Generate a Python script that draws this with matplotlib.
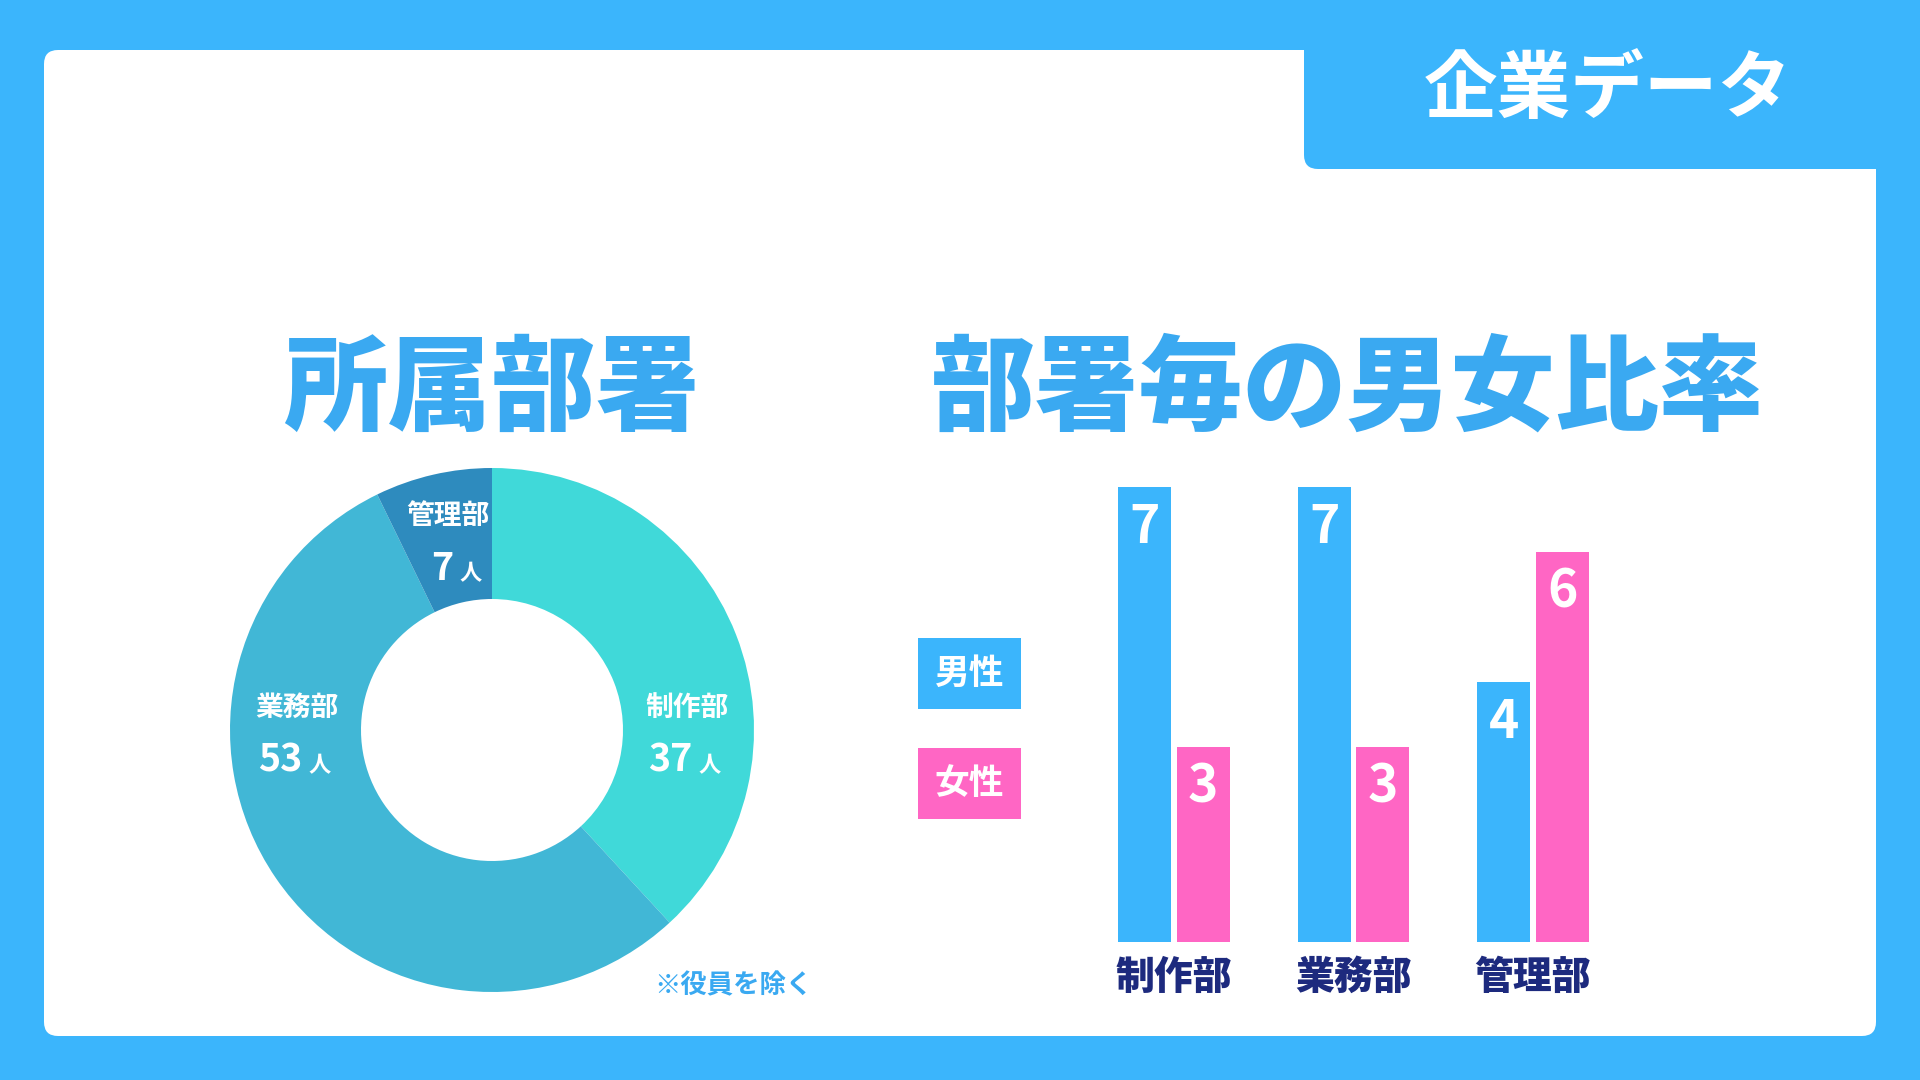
import numpy as np
import matplotlib
matplotlib.use("Agg")
import matplotlib.pyplot as plt
from matplotlib.patches import FancyBboxPatch, Rectangle

plt.rcParams['font.family'] = ['Noto Sans CJK JP', 'DejaVu Sans']

# data
departments = ["制作部", "業務部", "管理部"]
headcount = [37, 53, 7]
male = [7, 7, 4]
female = [3, 3, 6]
gender_labels = ["男性", "女性"]

header_text = "企業データ"
title_left = "所属部署"
title_right = "部署毎の男女比率"
note_text = "※役員を除く"

# colours
BG_BLUE = "#3BB5FC"
TITLE_BLUE = "#3AA9F1"
MALE_C = "#3BB5FC"
FEMALE_C = "#FF66C4"
NAVY = "#1D2A7E"
DONUT_C = ["#40D9D9", "#41B7D6", "#2E8BBE"]

W, H = 1920, 1080
fig = plt.figure(figsize=(19.2, 10.8), dpi=100, facecolor=BG_BLUE)

# background card, pixel coordinates
bg = fig.add_axes([0, 0, 1, 1])
bg.set_xlim(0, W)
bg.set_ylim(H, 0)
bg.axis("off")
bg.set_facecolor(BG_BLUE)
bg.add_patch(FancyBboxPatch((44, 50), 1876 - 44, 1036 - 50,
                            boxstyle="round,pad=0,rounding_size=14",
                            fc="white", ec="none"))
bg.add_patch(FancyBboxPatch((1304, -60), 700, 169 + 60,
                            boxstyle="round,pad=0,rounding_size=14",
                            fc=BG_BLUE, ec="none"))
bg.text(1608, 91, header_text, color="white", fontsize=53, fontweight="bold",
        ha="center", va="center")
bg.text(491, 391, title_left, color=TITLE_BLUE, fontsize=75, fontweight="heavy",
        ha="center", va="center")
bg.text(1347, 391, title_right, color=TITLE_BLUE, fontsize=75, fontweight="heavy",
        ha="center", va="center")
bg.text(733, 986, note_text, color=TITLE_BLUE, fontsize=19, fontweight="bold",
        ha="center", va="center")

# legend boxes
for i, (lab, col) in enumerate(zip(gender_labels, [MALE_C, FEMALE_C])):
    y0 = 638 + i * 110
    bg.add_patch(Rectangle((918, y0), 103, 71, fc=col, ec="none"))
    bg.text(918 + 51.5, y0 + 35.5, lab, color="white", fontsize=25,
            fontweight="bold", ha="center", va="center")

# donut
cx, cy, r = 492, 730, 262
ax_pie = fig.add_axes([(cx - r) / W, (H - cy - r) / H, 2 * r / W, 2 * r / H])
wedges, _ = ax_pie.pie(headcount, colors=DONUT_C, startangle=90,
                       counterclock=False, radius=1,
                       wedgeprops=dict(width=0.5, edgecolor="none"))
ax_pie.set_xlim(-1, 1)
ax_pie.set_ylim(-1, 1)
ax_pie.set_aspect("equal")
ax_pie.axis("off")

# label anchors (radius units): right, left, wedge middle for the small one
mid = np.deg2rad((wedges[2].theta1 + wedges[2].theta2) / 2)
label_xy = [(0.745, 0.0), (-0.745, 0.0), (0.75 * np.cos(mid), 0.75 * np.sin(mid))]
for name, n, (lx, ly) in zip(departments, headcount, label_xy):
    ax_pie.text(lx, ly + 0.085, name, color="white", fontsize=20,
                fontweight="bold", ha="center", va="center")
    ax_pie.text(lx + 0.02, ly - 0.16, str(n), color="white", fontsize=27,
                fontweight="bold", ha="right", va="baseline")
    ax_pie.text(lx + 0.045, ly - 0.16, "人", color="white", fontsize=16,
                fontweight="bold", ha="left", va="baseline")

# bar chart
unit = 65
base_y = 942
ymax = 8
grp = 179.5
left_px = 1174 - 0.5 * grp
ax_bar = fig.add_axes([left_px / W, (H - base_y) / H, 3 * grp / W, ymax * unit / H])
ax_bar.patch.set_alpha(0)
x = np.arange(len(departments))
bw = 0.295
off = 0.162
b1 = ax_bar.bar(x - off, male, bw, color=MALE_C)
b2 = ax_bar.bar(x + off, female, bw, color=FEMALE_C)
for bars in (b1, b2):
    for b in bars:
        ax_bar.text(b.get_x() + b.get_width() / 2, b.get_height() - 0.62,
                    str(int(b.get_height())), color="white", fontsize=37,
                    fontweight="bold", ha="center", va="center")
ax_bar.set_xlim(-0.5, 2.5)
ax_bar.set_ylim(0, ymax)
ax_bar.set_xticks(x)
ax_bar.set_xticklabels(departments, fontsize=28, fontweight="heavy", color=NAVY)
ax_bar.tick_params(axis="x", length=0, pad=11)
ax_bar.set_yticks([])
for s in ax_bar.spines.values():
    s.set_visible(False)

fig.savefig("out.png", dpi=100, facecolor=BG_BLUE)
